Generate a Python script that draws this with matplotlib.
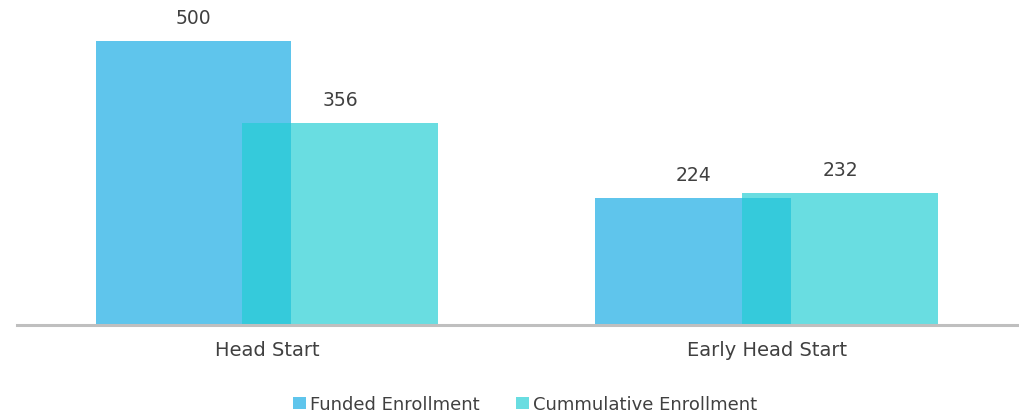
import numpy as np
import matplotlib.pyplot as plt

categories = ["Head Start", "Early Head Start"]
funded = [500, 224]
cumulative = [356, 232]

plt.rcParams['font.family'] = ['DejaVu Sans']

fig = plt.figure(figsize=(10.2, 4.14), dpi=100)
ax = fig.add_axes([0.0167, 0.213, 0.980, 0.787])

x = np.arange(len(categories))
w = 0.392
off = 0.147
b1 = ax.bar(x - off, funded, w, color="#5FC5EC", label="Funded Enrollment", zorder=2)
b2 = ax.bar(x + off, cumulative, w, color="#22CDD4", alpha=0.68, label="Cummulative Enrollment", zorder=3)

# etiquetas de valor sobre cada barra
for bars, vals in [(b1, funded), (b2, cumulative)]:
    for r, v in zip(bars, vals):
        ax.annotate(str(v), (r.get_x() + r.get_width() / 2, v), xytext=(0, 10),
                    textcoords="offset points", ha="center", va="bottom",
                    fontsize=13.5, color="#404040")

ax.set_xlim(-0.5, 1.5)
ax.set_ylim(0, 574)
ax.set_yticks([])
ax.set_xticks(x)
ax.set_xticklabels(categories, fontsize=14, color="#404040")
ax.tick_params(axis="x", length=0, pad=11)
for s in ["top", "right", "left"]:
    ax.spines[s].set_visible(False)
ax.spines["bottom"].set_color("#BFBFBF")
ax.spines["bottom"].set_linewidth(2.2)
ax.spines["bottom"].set_zorder(4)

leg = fig.legend(handles=[b1, b2], loc="lower center", bbox_to_anchor=(0.515, -0.04), ncol=2,
                 frameon=False, fontsize=13, handlelength=0.7, handleheight=0.7,
                 handletextpad=0.25, columnspacing=2.0)
for t in leg.get_texts():
    t.set_color("#404040")

fig.savefig("out.png", dpi=100)
